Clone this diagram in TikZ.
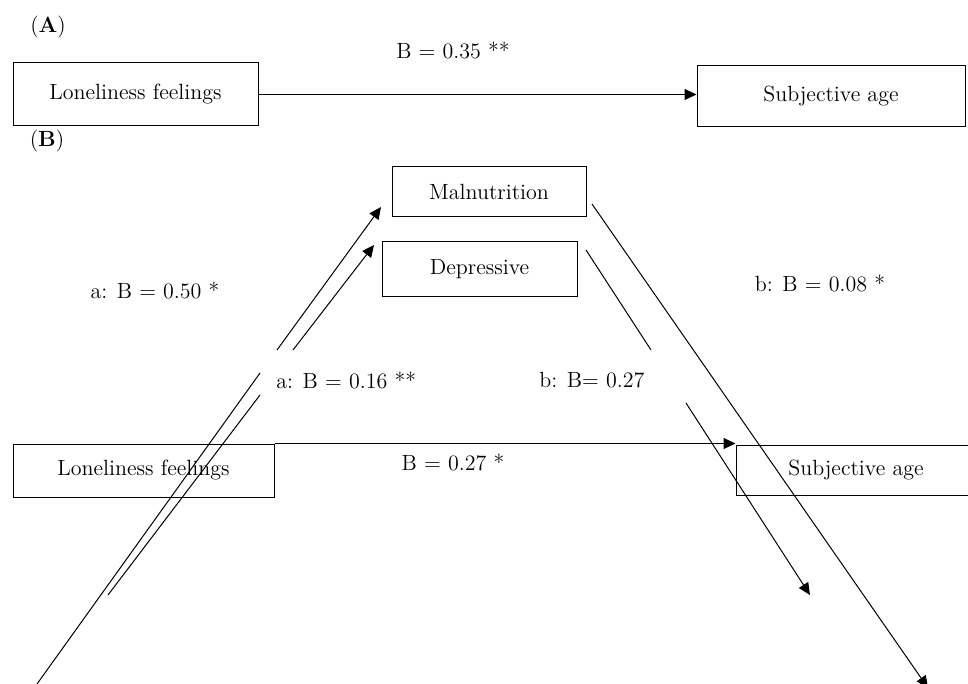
\documentclass[tikz,border=0pt]{standalone}
\usetikzlibrary{arrows.meta}
\begin{document}
\begin{tikzpicture}[x=0.5pt,y=-0.5pt,
  font=\fontsize{11}{13}\selectfont,
  varbox/.style={draw,line width=0.5pt,inner sep=0pt},
  arr/.style={-{Triangle[length=6pt,width=5.5pt]},line width=0.5pt},
  seg/.style={line width=0.5pt}]
\useasboundingbox (0,0) rectangle (968,684);

\node (labA) at (48,27) {(\textbf{A})};
\node (labB) at (47,141) {(\textbf{B})};

\node[varbox,minimum width=122.5pt,minimum height=31.5pt] (lonA) at (135.5,94.5) {Loneliness feelings};
\node[varbox,minimum width=134pt,minimum height=30.5pt] (subjA) at (831,96.5) {Subjective age};
\draw[arr] (lonA.east) -- (lonA.east -| subjA.west);
\node (cA) at (453,50) {B = 0.35 **};

\node[varbox,minimum width=97pt,minimum height=25pt] (maln) at (489,192) {Malnutrition};
\node[varbox,minimum width=97.5pt,minimum height=27pt] (depr) at (479.5,269) {Depressive};
\node[varbox,minimum width=130.5pt,minimum height=26.5pt] (lonB) at (143.5,470.5) {Loneliness feelings};
\node[varbox,minimum width=120pt,minimum height=25pt] (subjB) at (856,470) {Subjective age};

\coordinate (a1s) at (37,684);
\coordinate (a1g) at (260,373);
\coordinate (a1h) at (277,350);
\coordinate (a1e) at (381,207);
\coordinate (a2s) at (108,595);
\coordinate (a2g) at (260,395);
\coordinate (a2h) at (293,350);
\coordinate (a2e) at (374,245);
\coordinate (b1s) at (592,204);
\coordinate (b1e) at (928,688);
\coordinate (b2s) at (586,250);
\coordinate (b2g) at (651,350);
\coordinate (b2h) at (686,403);
\coordinate (b2e) at (810,595);

\draw[seg] (a1s) -- (a1g);
\draw[arr] (a1h) -- (a1e);
\draw[seg] (a2s) -- (a2g);
\draw[arr] (a2h) -- (a2e);
\draw[arr] (b1s) -- (b1e);
\draw[seg] (b2s) -- (b2g);
\draw[arr] (b2h) -- (b2e);
\draw[arr] (lonB.north east) -- (lonB.north east -| subjB.west);

\node (ca1) at (155,290) {a: B = 0.50 *};
\node[anchor=west,inner sep=0pt] (ca2) at (276,380) {a: B = 0.16 **};
\node (cb2) at (592,380) {b: B= 0.27};
\node (cb1) at (820,283) {b: B = 0.08 *};
\node (cB) at (453,462) {B = 0.27 *};
\end{tikzpicture}
\end{document}
